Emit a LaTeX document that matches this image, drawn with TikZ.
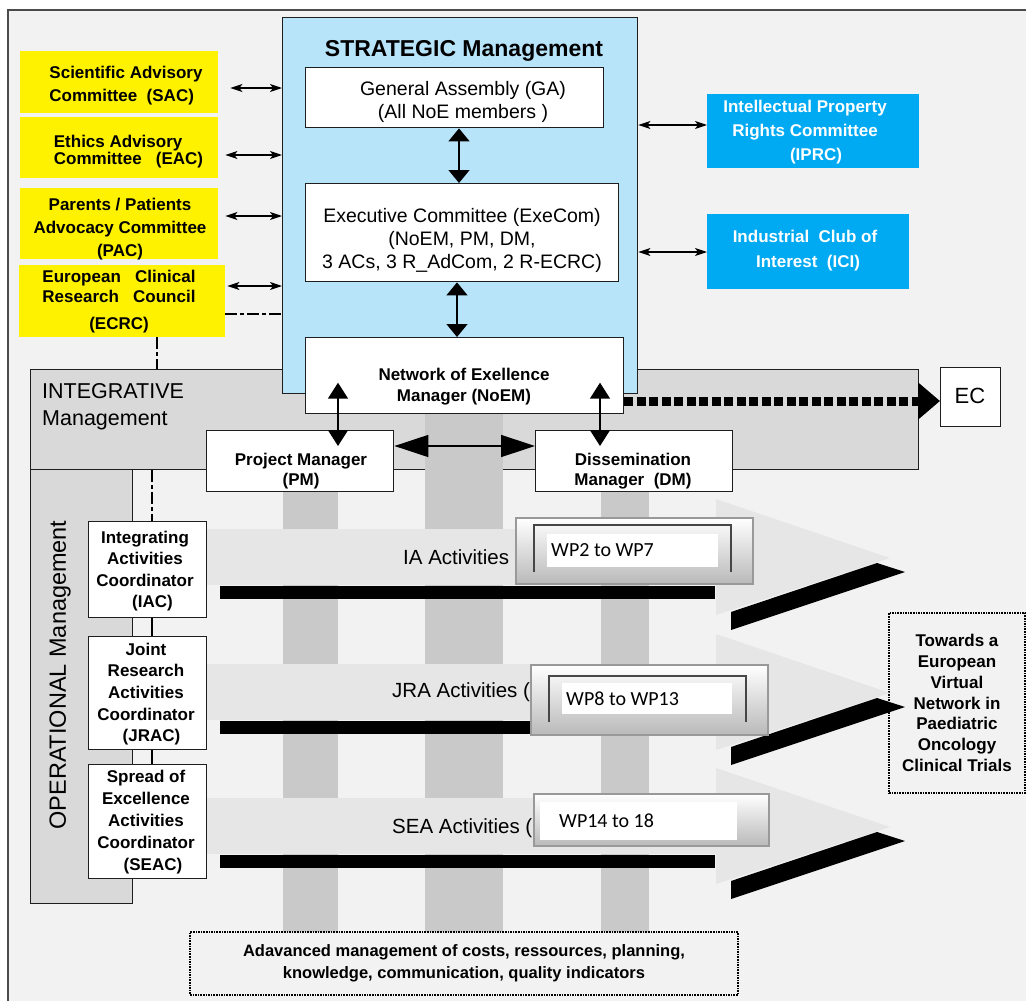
\documentclass[tikz,border=0pt]{standalone}
\usepackage{fontspec}
\setmainfont{Liberation Sans}
\newfontfamily\wpfont{Carlito}
\usetikzlibrary{arrows.meta,calc}

\definecolor{pagebg}{RGB}{242,242,242}
\definecolor{integfill}{RGB}{217,217,217}
\definecolor{colfill}{RGB}{201,201,201}
\definecolor{bandfill}{RGB}{230,230,230}
\definecolor{stratblue}{RGB}{184,228,250}
\definecolor{cyanbox}{RGB}{0,170,242}
\definecolor{edge}{RGB}{30,30,30}

\newcommand{\fsz}[2]{\fontsize{#1}{#2}\selectfont}
% box given by its corners (x1,y1)-(x2,y2), in pixel units
\newcommand{\pbox}[6]{\node[#1, anchor=north west, minimum width={#4-#2}, minimum height={#5-#3}] (#6) at (#2,#3) {};}

\tikzset{
  layer/.style={draw=edge, fill=integfill, line width=1.4pt, inner sep=0pt},
  stratbox/.style={draw=edge, fill=stratblue, line width=1.4pt, inner sep=0pt},
  plain/.style={draw=edge, fill=white, line width=1.4pt, inner sep=0pt},
  ybox/.style={fill=yellow, inner sep=0pt},
  cbox/.style={fill=cyanbox, inner sep=0pt},
  dotbox/.style={draw=black, fill=pagebg, line width=1.6pt, densely dotted, inner sep=0pt},
  btxt/.style={font=\bfseries\fsz{17}{#1}, inner sep=0pt, align=center},
  rtxt/.style={font=\fsz{19.5}{#1}, inner sep=0pt, align=center},
  acttxt/.style={font=\fsz{20.5}{24}, inner sep=0pt},
  wpouter/.style={draw=gray!80, line width=2pt, top color=white, bottom color=gray!55, inner sep=0pt},
  wpedge/.style={draw=gray!55!black, line width=1.5pt},
  wpwhite/.style={fill=white, inner sep=0pt},
  wptxt/.style={font=\wpfont\fsz{20}{24}, inner sep=0pt},
  sarr/.style={{Stealth[length=12pt,width=8pt,inset=3pt]}-{Stealth[length=12pt,width=8pt,inset=3pt]}, line width=1.3pt},
  varr/.style={{Triangle[length=13pt,width=21pt]}-{Triangle[length=13pt,width=21pt]}, line width=1.5pt},
  marr/.style={{Triangle[length=16pt,width=20pt]}-{Triangle[length=16pt,width=20pt]}, line width=1.5pt},
  harr/.style={{Triangle[length=34pt,width=22pt]}-{Triangle[length=34pt,width=22pt]}, line width=1.5pt},
  ecarr/.style={-{Triangle[length=22pt,width=36pt]}, line width=9pt, dash pattern=on 9pt off 3.5pt},
  dashdotline/.style={line width=1.3pt, dash pattern=on 12pt off 3pt on 4pt off 3pt},
  link/.style={line width=1.3pt},
}

\begin{document}
\begin{tikzpicture}[x=1pt, y=-1pt]
\useasboundingbox (0,0) rectangle (1026,1001);
\fill[white] (0,0) rectangle (1026,1001);
\fill[pagebg] (8,10) rectangle (1026,1001);
\draw[line width=1.4pt, draw=edge!80] (1026,10) -- (8,10) -- (8,1001);

% management layers
\pbox{layer}{30}{369}{918}{469}{integ}
\pbox{layer}{30}{469}{132}{903}{oper}
\pbox{stratbox}{282}{17}{637}{393}{strat}

% vertical work columns
\fill[colfill] (283,491) rectangle (338,932);
\fill[colfill] (425,413) rectangle (503,932);
\fill[colfill] (601,491) rectangle (649,932);

% goal box on the right
\node[dotbox, minimum width=136, minimum height=180, btxt=20.8] (goal) at (957,703)
  {Towards a\\European\\Virtual\\Network in\\Paediatric\\Oncology\\Clinical Trials};

% activity arrows with their black extrusions
\foreach \dy in {0,135,269} {
  \fill[bandfill] (206,{529+\dy}) rectangle (716,{585+\dy});
  \fill[bandfill] (716,{499+\dy}) -- (890,{558+\dy}) -- (716,{615+\dy}) -- cycle;
  \fill[black] (220,{586+\dy}) rectangle (715,{599+\dy});
  \fill[black] (731,{612+\dy}) -- (877,{563+\dy}) -- (905,{572+\dy}) -- (731,{630+\dy}) -- cycle;
}

% bottom box
\node[dotbox, minimum width=548, minimum height=63, font=\bfseries\fsz{16.5}{22}, align=center] (adv) at (464,963.5)
  {Adavanced management of costs, ressources, planning,\\knowledge, communication, quality indicators};

% advisory committees
\pbox{ybox}{20}{51}{218}{113}{sac}
\pbox{ybox}{20}{117}{218}{178}{eac}
\pbox{ybox}{20}{188}{218}{259}{pac}
\pbox{ybox}{19}{265}{225}{337}{ecrc}
\node[btxt=23, align=left] (sactxt) at (126,85.5) {Scientific Advisory\\Committee~ (SAC)};
\node[btxt=17, align=left] (eactxt) at (128.5,151.5) {Ethics Advisory\\Committee~~ (EAC)};
\node[btxt=23] (pactxt) at (120,229) {Parents / Patients\\Advocacy Committee\\(PAC)};
\node[btxt=20] (ecrctxt) at (119,301.5) {European~~~Clinical\\Research~~~Council\\[7pt](ECRC)};

% external committees
\pbox{cbox}{707}{94}{919}{168}{iprc}
\pbox{cbox}{707}{214}{909}{289}{ici}
\node[btxt=24, text=white] (iprctxt) at (805,132) {Intellectual Property\\Rights Committee\\\hspace*{22pt}(IPRC)};
\node[btxt=25, text=white] (icitxt) at (805,250.5) {Industrial~ Club of\\\hspace*{6pt}Interest~ (ICI)};

% strategic boxes
\node[font=\bfseries\fsz{23}{26}, inner sep=0pt] (strattitle) at (464,51) {STRATEGIC Management};
\pbox{plain}{305}{67}{603}{127}{ga}
\pbox{plain}{305}{183}{618}{281}{exe}
\pbox{plain}{305}{337}{623}{413}{noem}
\node[rtxt=23] (gatxt) at (463,101.5) {General Assembly (GA)\\(All NoE members~)};
\node[rtxt=23] (exetxt) at (462,240) {Executive Committee (ExeCom)\\(NoEM, PM, DM,\\3 ACs, 3 R\_AdCom, 2 R-ECRC)};
\node[btxt=21] (noemtxt) at (464,386.5) {Network of Exellence\\Manager (NoEM)};

% integrative level
\node[anchor=west, align=left, font=\fsz{21.5}{27}, inner sep=0pt] (integtitle) at (42,406.5) {INTEGRATIVE\\Management};
\pbox{plain}{206}{430}{393}{491}{pm}
\pbox{plain}{535}{430}{732}{491}{dm}
\node[btxt=20] (pmtxt) at (301,471) {Project Manager\\(PM)};
\node[btxt=20] (dmtxt) at (633,471) {Dissemination\\Manager~ (DM)};
\pbox{plain}{940}{367}{1000}{426}{ec}
\node[font=\fsz{22}{26}, inner sep=0pt] (ectxt) at (970,396) {EC};

% operational level
\node[rotate=90, font=\fsz{23.5}{26}, inner sep=0pt] (opertitle) at (60,675) {OPERATIONAL Management};
\pbox{plain}{88}{521}{206}{617}{iac}
\pbox{plain}{88}{636}{206}{749}{jrac}
\pbox{plain}{88}{764}{206}{878}{seac}
\node[btxt=21.3] (iactxt) at (145,571) {Integrating\\Activities\\Coordinator\\\hspace*{15pt}(IAC)};
\node[btxt=21.7] (jractxt) at (146,694) {Joint\\Research\\Activities\\Coordinator\\\hspace*{11pt}(JRAC)};
\node[btxt=22] (seactxt) at (146,822) {Spread of\\Excellence\\Activities\\Coordinator\\\hspace*{14pt}(SEAC)};

% activity labels
\node[acttxt, anchor=west] (ialbl) at (403,557) {IA Activities};
\node[acttxt, anchor=west] (jralbl) at (392,692) {JRA Activities (};
\node[acttxt, anchor=west] (sealbl) at (392,828) {SEA Activities (};

% work package boxes
\pbox{wpouter}{515}{517}{752}{583}{wpa}
\draw[wpedge] (534,572) -- (534,525) -- (731,525) -- (731,572);
\pbox{wpwhite}{547}{534}{718}{567}{wpafill}
\node[wptxt, anchor=west] (wpatxt) at (551,550.5) {WP2 to WP7};

\pbox{wpouter}{530}{664}{767}{734}{wpb}
\draw[wpedge] (549,722) -- (549,676) -- (746,676) -- (746,722);
\pbox{wpwhite}{562}{683}{732}{714}{wpbfill}
\node[wptxt, anchor=west] (wpbtxt) at (566,698.5) {WP8 to WP13};

\pbox{wpouter}{533}{793}{768}{845}{wpc}
\pbox{wpwhite}{540}{802}{737}{840}{wpcfill}
\node[wptxt, anchor=west] (wpctxt) at (559,821) {WP14 to 18};

% connectors
\draw[sarr, shorten <=12pt] (sac.east |- 0,88) -- (strat.west |- 0,88);
\draw[sarr, shorten <=7pt] (eac.east |- 0,155) -- (strat.west |- 0,155);
\draw[sarr, shorten <=7pt] (pac.east |- 0,216) -- (strat.west |- 0,216);
\draw[sarr, shorten <=2pt] (ecrc.east |- 0,286) -- (strat.west |- 0,286);
\draw[sarr] (strat.east |- 0,125) -- (iprc.west |- 0,125);
\draw[sarr] (strat.east |- 0,252) -- (ici.west |- 0,252);

\draw[dashdotline] (ecrc.east |- 0,314) -- (strat.west |- 0,314);
\draw[dashdotline] (ecrc.south -| 157,0) -- (integ.north -| 157,0);
\draw[dashdotline] (integ.south -| 152,0) -- (iac.north -| 152,0);
\draw[link] (iac.south -| 152,0) -- (jrac.north -| 152,0);
\draw[link] (jrac.south -| 152,0) -- (seac.north -| 152,0);

\draw[varr] (ga.south -| 459,0) -- (exe.north -| 459,0);
\draw[varr] (exe.south -| 457,0) -- (noem.north -| 457,0);
\draw[marr, shorten <=7pt, shorten >=-16pt] (noem.center -| 338,0) -- (pm.north -| 338,0);
\draw[marr, shorten <=7pt, shorten >=-16pt] (noem.center -| 600,0) -- (dm.north -| 600,0);
\draw[harr] (pm.east |- 0,446) -- (dm.west |- 0,446);
\draw[ecarr] (noem.east |- 0,401) -- (ec.west |- 0,401);
\end{tikzpicture}
\end{document}
